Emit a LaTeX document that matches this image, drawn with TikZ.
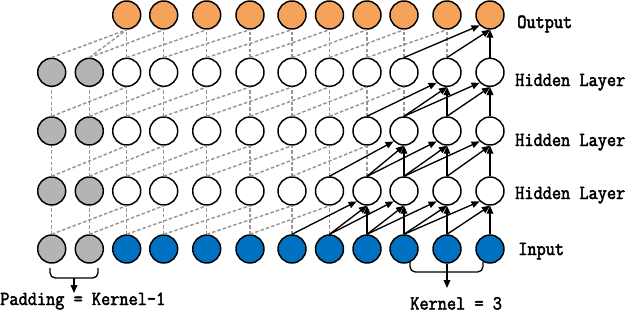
\documentclass[tikz,border=0pt]{standalone}
\usepackage{fontspec}
\newfontfamily\labfont{Latin Modern Mono}[FakeBold=2.4,FakeStretch=0.89]
\usetikzlibrary{arrows.meta}
\definecolor{outc}{RGB}{245,162,90}
\definecolor{inc}{RGB}{0,112,192}
\definecolor{padc}{RGB}{180,180,180}
\definecolor{dshc}{RGB}{150,150,150}
\begin{document}
\begin{tikzpicture}[x=0.75pt,y=-0.75pt,
  neuron/.style={circle,draw=black,line width=1.1pt,minimum size=21pt,inner sep=0pt},
  dsh/.style={draw=dshc,line width=1.1pt,dash pattern=on 2.6pt off 1.6pt},
  arr/.style={draw=black,line width=1pt,-{Triangle[length=6pt,width=5pt]}},
  lab/.style={font=\labfont\fontsize{15pt}{17pt}\selectfont,anchor=base west,inner sep=0pt}]
\useasboundingbox (0,0) rectangle (628,314);
% nodes
\foreach \x [count=\i from 0] in {51.7,89.3,126.7,163.7,206.7,250,292,329.5,367,404,447,490} {
  \foreach \y [count=\r from 0] in {15,72.3,131,191,249} {
    \ifnum\r=0
      \ifnum\i>1 \node[neuron,fill=outc] (n\r-\i) at (\x,\y) {};\fi
    \else
      \ifnum\i<2
        \node[neuron,fill=padc] (n\r-\i) at (\x,\y) {};
      \else
        \ifnum\r=4
          \node[neuron,fill=inc] (n\r-\i) at (\x,\y) {};
        \else
          \node[neuron,fill=white] (n\r-\i) at (\x,\y) {};
        \fi
      \fi
    \fi
  }
}
% connections
\foreach \r in {0,...,3} {
  \pgfmathtruncatemacro\lo{\r+1}
  \pgfmathtruncatemacro\tmin{ifthenelse(\r==0,2,0)}
  \pgfmathtruncatemacro\smin{11-\r}
  \foreach \tg in {\tmin,...,11} {
    \pgfmathtruncatemacro\a{\tg-2}
    \pgfmathtruncatemacro\b{\tg-1}
    \ifnum\tg<\smin
      \draw[dsh] (n\lo-\tg.north) -- (n\r-\tg.south);
      \ifnum\a>-1 \draw[dsh] (n\lo-\a.north) -- (n\r-\tg.south);\fi
    \else
      \draw[arr] (n\lo-\tg.north) -- (n\r-\tg.south);
      \draw[arr] (n\lo-\b.north) -- (n\r-\tg.south);
      \draw[arr] (n\lo-\a.north) -- (n\r-\tg.south west);
    \fi
  }
}
\draw[dsh] (n1-1.north) -- (n0-2.south);
% labels
\node[lab] (lo) at (517,28) {Output};
\node[lab] (lh1) at (515,86) {Hidden Layer};
\node[lab] (lh2) at (515,146) {Hidden Layer};
\node[lab] (lh3) at (515,199) {Hidden Layer};
\node[lab] (li) at (518,255) {Input};
\node[lab] (lp) at (0,305) {Padding = Kernel-1};
\node[lab] (lk) at (410,309.5) {Kernel = 3};
% brackets
\draw[line width=1pt,rounded corners=4pt] (50,268) -- (50,278) -- (98,278) -- (98,268);
\coordinate (pb) at (74,278);
\coordinate (pt) at (74,293);
\draw[arr] (pb) -- (pt);
\draw[line width=1pt,rounded corners=4pt] (410,261.5) -- (410,272) -- (483,272) -- (483,261.5);
\coordinate (kt) at (447,288);
\draw[arr] (n4-10.south) -- (kt);
\end{tikzpicture}
\end{document}
